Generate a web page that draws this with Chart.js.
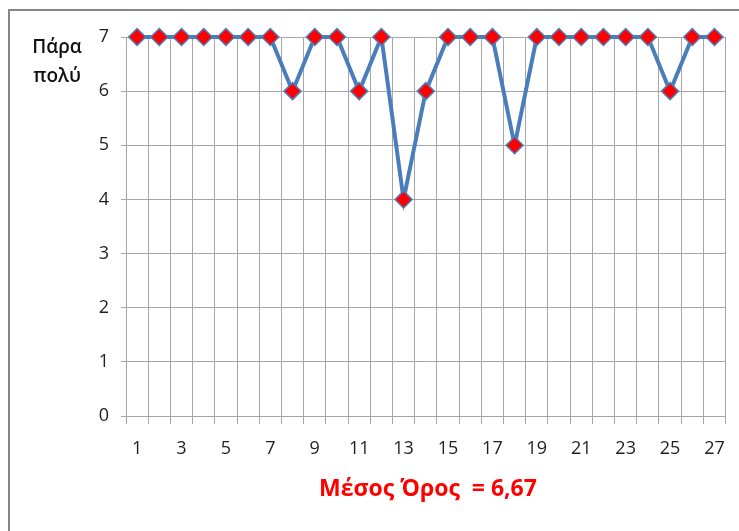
<!DOCTYPE html>
<html>
<head>
<meta charset="utf-8">
<script src="https://cdn.jsdelivr.net/npm/chart.js@4"></script>
<style>
html, body { margin: 0; padding: 0; background: #fff; overflow: hidden; }
#wrap { position: relative; width: 739px; height: 531px; }
#frame { position: absolute; left: 8px; top: 9px; width: 760px; height: 560px; border: 2px solid #868686; }
canvas { position: absolute; left: 0; top: 0; }
</style>
</head>
<body>
<div id="wrap">
  <div id="frame"></div>
  <canvas id="chart" width="739" height="531"></canvas>
</div>
<script>
const categories = ['1', '2', '3', '4', '5', '6', '7', '8', '9', '10', '11', '12', '13', '14',
    '15', '16', '17', '18', '19', '20', '21', '22', '23', '24', '25', '26', '27'];
const values = [7, 7, 7, 7, 7, 7, 7, 6, 7, 7, 6, 7, 4, 6, 7, 7, 7, 5, 7, 7, 7, 7, 7, 7, 6, 7, 7];
const yTitle = ['Πάρα', 'πολύ'];
const meanLabel = 'Μέσος Όρος  = ';

const mean = (values.reduce((a, b) => a + b, 0) / values.length).toFixed(2).replace('.', ',');

const textPlugin = {
    id: 'texts',
    afterDraw(chart) {
        const c = chart.ctx;
        c.save();
        c.textAlign = 'center';
        c.textBaseline = 'middle';
        c.fillStyle = '#111';
        c.font = '600 19px "Open Sans"';
        c.fillText(yTitle[0], 57, 48);
        c.fillText(yTitle[1], 57, 77);
        c.fillStyle = '#ff0000';
        c.font = 'bold 23px "Open Sans"';
        c.fillText(meanLabel + mean, 428, 489);
        c.restore();
    }
};

const ctx = document.getElementById('chart').getContext('2d');
new Chart(ctx, {
    type: 'line',
    data: {
        labels: categories,
        datasets: [{
            data: values,
            borderColor: '#4a7ebb',
            borderWidth: 4,
            pointStyle: 'rectRot',
            pointRadius: 8.5,
            pointBackgroundColor: '#ff0000',
            pointBorderColor: '#4a7ebb',
            pointBorderWidth: 1.5,
            tension: 0,
            clip: false
        }]
    },
    options: {
        responsive: false,
        animation: false,
        layout: { padding: { left: 0, right: 12, top: 37, bottom: 0 } },
        plugins: {
            legend: { display: false },
            tooltip: { enabled: false }
        },
        scales: {
            x: {
                afterFit: s => { s.height = 115; },
                offset: true,
                grid: { offset: true, color: '#a6a6a6', tickLength: 8 },
                border: { color: '#a6a6a6' },
                ticks: {
                    autoSkip: false,
                    maxRotation: 0,
                    padding: 14,
                    color: '#1f1f1f',
                    font: { family: 'Open Sans', size: 18 },
                    callback: function (val, i) { return i % 2 === 0 ? this.getLabelForValue(val) : ''; }
                }
            },
            y: {
                afterFit: s => { s.width = 126; },
                min: 0,
                max: 7,
                grid: { color: '#a6a6a6', tickLength: 5 },
                border: { color: '#a6a6a6' },
                ticks: {
                    stepSize: 1,
                    padding: 12,
                    color: '#1f1f1f',
                    font: { family: 'Open Sans', size: 18 }
                }
            }
        }
    },
    plugins: [textPlugin]
});
</script>
</body>
</html>
